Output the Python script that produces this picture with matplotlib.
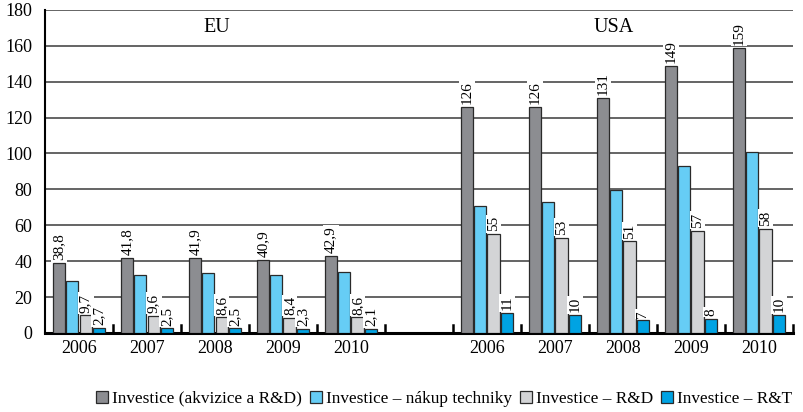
import numpy as np
from matplotlib import pyplot as plt
from matplotlib.patches import Patch

plt.rcParams['font.family'] = ['Liberation Serif', 'DejaVu Serif']

years = ['2006', '2007', '2008', '2009', '2010']
regions = ['EU', 'USA']

# EU then USA, one value per year
akvizice_eu = [38.8, 41.8, 41.9, 40.9, 42.9]
akvizice_usa = [126, 126, 131, 149, 159]
technika_eu = [29.0, 32.2, 33.2, 32.4, 34.1]
technika_usa = [70.6, 72.9, 79.5, 92.9, 100.7]
rd_eu = [9.7, 9.6, 8.6, 8.4, 8.6]
rd_usa = [55, 53, 51, 57, 58]
rt_eu = [2.7, 2.5, 2.5, 2.3, 2.1]
rt_usa = [11, 10, 7, 8, 10]

series_names = ['Investice (akvizice a R&D)', 'Investice \u2013 nákup techniky',
                'Investice \u2013 R&D', 'Investice \u2013 R&T']
colors = ['#8c8d91', '#66cdf5', '#d3d4d6', '#00a3e3']
labelled = [True, False, True, True]


def fmt(v):
    if float(v).is_integer():
        return '%d' % v
    return ('%.1f' % v).replace('.', ',')


series = [akvizice_eu + akvizice_usa, technika_eu + technika_usa,
          rd_eu + rd_usa, rt_eu + rt_usa]

# slots 0-4 EU, slot 5 empty, slots 6-10 USA
pos = np.array([0, 1, 2, 3, 4, 6, 7, 8, 9, 10], dtype=float)

fig = plt.figure(figsize=(8.04, 4.12), dpi=100)
ax = fig.add_axes([0.056, 0.192, 0.93, 0.784])

ax.set_ylim(0, 180)
ax.set_xlim(-0.5, 10.5)
ax.set_yticks(np.arange(0, 181, 20))
ax.yaxis.grid(True, color='#3a3a3a', lw=1.1)
ax.set_axisbelow(True)

w = 0.18
step = 0.196
for i, vals in enumerate(series):
    xs = pos + (i - 1.5) * step
    ax.bar(xs, vals, width=w, color=colors[i], edgecolor='#2a2a2a', lw=0.9, zorder=3)
    if labelled[i]:
        for x, v in zip(xs, vals):
            ax.annotate(fmt(v), (x, v), xytext=(0, 2), textcoords='offset points',
                        rotation=90, ha='center', va='bottom', fontsize=11,
                        bbox=dict(facecolor='white', edgecolor='none', pad=1.0),
                        zorder=4)

# group separator ticks
for b in np.arange(0.5, 10.6, 1.0):
    ax.plot([b, b], [0, 4.2], color='black', lw=1.8, zorder=5, clip_on=False)

ax.set_xticks(pos)
ax.set_xticklabels(years + years, fontsize=13)
ax.tick_params(axis='x', length=0, pad=5)
ax.tick_params(axis='y', length=0, pad=9, labelsize=13)

for s in ['top', 'right']:
    ax.spines[s].set_visible(False)
ax.spines['left'].set_linewidth(1.5)
ax.spines['bottom'].set_linewidth(2.2)

ax.text(2.02, 170, regions[0], ha='center', va='center', fontsize=14.5, zorder=5)
ax.text(7.86, 170, regions[1], ha='center', va='center', fontsize=14.5, zorder=5,
        bbox=dict(facecolor='white', edgecolor='none', pad=0.5))

handles = [Patch(facecolor=c, edgecolor='#2a2a2a', lw=0.9) for c in colors]
fig.legend(handles, series_names, loc='lower right', bbox_to_anchor=(1.005, -0.025),
           ncol=4, frameon=False, fontsize=12.4, handlelength=0.7, handleheight=0.7,
           handletextpad=0.25, columnspacing=0.45)

fig.savefig('out.png', dpi=100)
